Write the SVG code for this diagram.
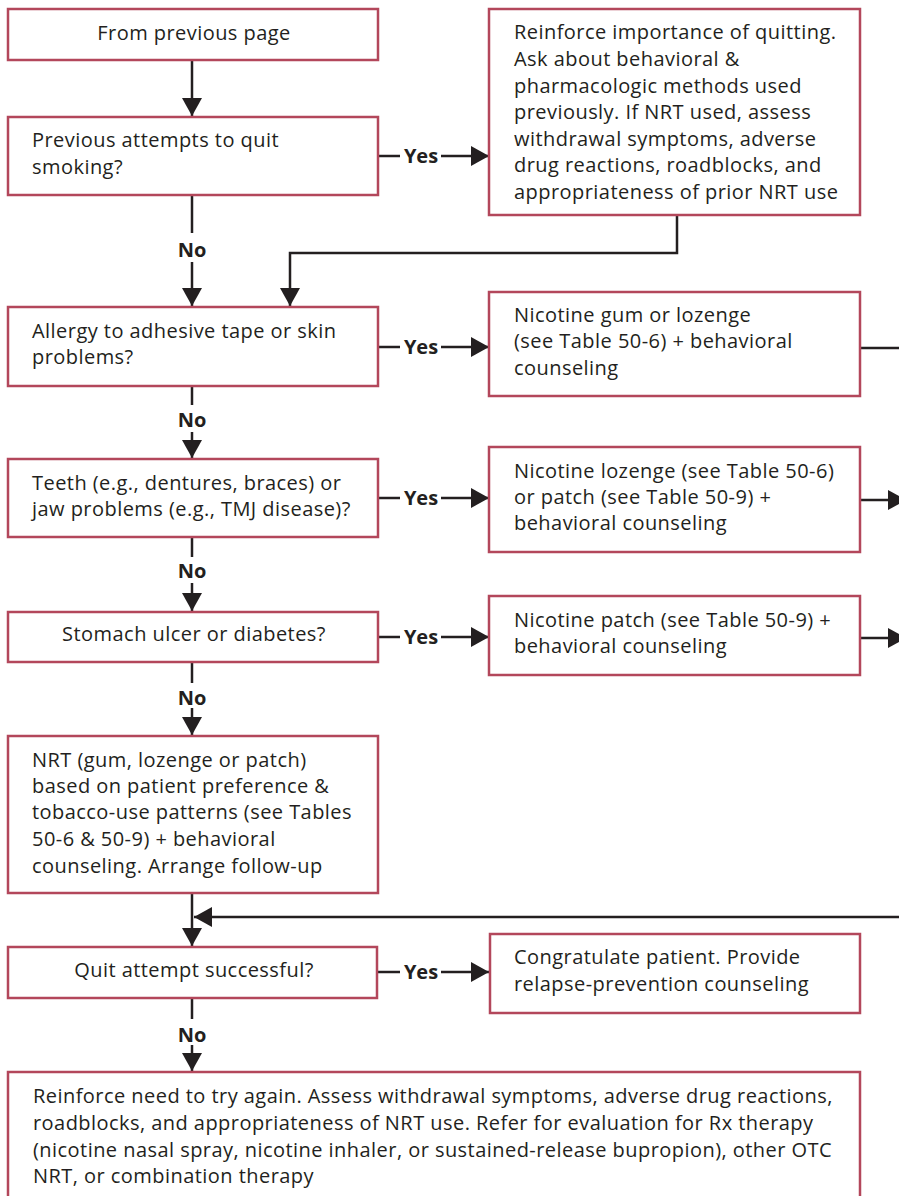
<svg xmlns="http://www.w3.org/2000/svg" width="899" height="1196" viewBox="0 0 899 1196">
<style>
.box{fill:#fff;stroke:#B3475B;stroke-width:2.5}
.t{font-family:"Open Sans","Liberation Sans",sans-serif;font-size:20px;fill:#231F20;letter-spacing:0.45px}
.m{text-anchor:middle}
.lbl{font-family:"Open Sans","Liberation Sans",sans-serif;font-size:20px;font-weight:bold;fill:#231F20;text-anchor:middle}
.c{stroke:#231F20;stroke-width:2.5;fill:none}
</style>
<defs>
<marker id="ah" markerUnits="userSpaceOnUse" markerWidth="18" markerHeight="20" refX="18" refY="10" orient="auto">
<path d="M0,0 L18,10 L0,20 z" fill="#231F20"/>
</marker>
</defs>
<rect width="899" height="1196" fill="#fff"/>

<g id="connectors">
<line class="c" x1="192" y1="60" x2="192" y2="116" marker-end="url(#ah)"/>
<line class="c" x1="378" y1="156" x2="400" y2="156"/>
<line class="c" x1="441" y1="156" x2="489" y2="156" marker-end="url(#ah)"/>
<line class="c" x1="192" y1="195" x2="192" y2="233"/>
<line class="c" x1="192" y1="262" x2="192" y2="306" marker-end="url(#ah)"/>
<path class="c" d="M677,215 V253 H290 V306" marker-end="url(#ah)"/>
<line class="c" x1="378" y1="347" x2="400" y2="347"/>
<line class="c" x1="441" y1="347" x2="489" y2="347" marker-end="url(#ah)"/>
<line class="c" x1="860" y1="348" x2="905" y2="348"/>
<line class="c" x1="192" y1="386" x2="192" y2="405"/>
<line class="c" x1="192" y1="432" x2="192" y2="458" marker-end="url(#ah)"/>
<line class="c" x1="378" y1="498" x2="400" y2="498"/>
<line class="c" x1="441" y1="498" x2="489" y2="498" marker-end="url(#ah)"/>
<line class="c" x1="860" y1="500" x2="906" y2="500" marker-end="url(#ah)"/>
<line class="c" x1="192" y1="537" x2="192" y2="557"/>
<line class="c" x1="192" y1="583" x2="192" y2="611" marker-end="url(#ah)"/>
<line class="c" x1="378" y1="637" x2="400" y2="637"/>
<line class="c" x1="441" y1="637" x2="489" y2="637" marker-end="url(#ah)"/>
<line class="c" x1="860" y1="638" x2="906" y2="638" marker-end="url(#ah)"/>
<line class="c" x1="192" y1="662" x2="192" y2="683"/>
<line class="c" x1="192" y1="708" x2="192" y2="735" marker-end="url(#ah)"/>
<line class="c" x1="192" y1="893" x2="192" y2="946" marker-end="url(#ah)"/>
<line class="c" x1="905" y1="917" x2="194" y2="917" marker-end="url(#ah)"/>
<line class="c" x1="377" y1="972" x2="400" y2="972"/>
<line class="c" x1="441" y1="972" x2="489" y2="972" marker-end="url(#ah)"/>
<line class="c" x1="192" y1="998" x2="192" y2="1019"/>
<line class="c" x1="192" y1="1045" x2="192" y2="1071" marker-end="url(#ah)"/>
<text class="lbl" x="421" y="163">Yes</text>
<text class="lbl" x="192" y="257">No</text>
<text class="lbl" x="421" y="354">Yes</text>
<text class="lbl" x="192" y="427">No</text>
<text class="lbl" x="421" y="505">Yes</text>
<text class="lbl" x="192" y="578">No</text>
<text class="lbl" x="421" y="644">Yes</text>
<text class="lbl" x="192" y="705">No</text>
<text class="lbl" x="421" y="979">Yes</text>
<text class="lbl" x="192" y="1042">No</text>
</g>

<g id="n1">
<rect class="box" x="8" y="9" width="370" height="51"/>
<text class="t m" x="194" y="40">From previous page</text>
</g>
<g id="n2">
<rect class="box" x="8" y="117" width="370" height="78"/>
<text class="t" x="32" y="147">Previous attempts to quit</text>
<text class="t" x="32" y="174">smoking?</text>
</g>
<g id="n3">
<rect class="box" x="489" y="9" width="371" height="206"/>
<text class="t" x="514" y="39">Reinforce importance of quitting.</text>
<text class="t" x="514" y="66">Ask about behavioral &amp;</text>
<text class="t" x="514" y="93">pharmacologic methods used</text>
<text class="t" x="514" y="119">previously. If NRT used, assess</text>
<text class="t" x="514" y="146">withdrawal symptoms, adverse</text>
<text class="t" x="514" y="172">drug reactions, roadblocks, and</text>
<text class="t" x="514" y="199">appropriateness of prior NRT use</text>
</g>
<g id="n4">
<rect class="box" x="8" y="307" width="370" height="79"/>
<text class="t" x="32" y="338">Allergy to adhesive tape or skin</text>
<text class="t" x="32" y="364">problems?</text>
</g>
<g id="n5">
<rect class="box" x="489" y="292" width="371" height="104"/>
<text class="t" x="514" y="322">Nicotine gum or lozenge</text>
<text class="t" x="514" y="348">(see Table 50-6) + behavioral</text>
<text class="t" x="514" y="375">counseling</text>
</g>
<g id="n6">
<rect class="box" x="8" y="459" width="370" height="78"/>
<text class="t" x="32" y="490">Teeth (e.g., dentures, braces) or</text>
<text class="t" x="32" y="516">jaw problems (e.g., TMJ disease)?</text>
</g>
<g id="n7">
<rect class="box" x="489" y="447" width="371" height="105"/>
<text class="t" x="514" y="478">Nicotine lozenge (see Table 50-6)</text>
<text class="t" x="514" y="504">or patch (see Table 50-9) +</text>
<text class="t" x="514" y="530">behavioral counseling</text>
</g>
<g id="n8">
<rect class="box" x="8" y="612" width="370" height="50"/>
<text class="t m" x="194" y="641">Stomach ulcer or diabetes?</text>
</g>
<g id="n9">
<rect class="box" x="489" y="596" width="371" height="79"/>
<text class="t" x="514" y="627">Nicotine patch (see Table 50-9) +</text>
<text class="t" x="514" y="653">behavioral counseling</text>
</g>
<g id="n10">
<rect class="box" x="8" y="736" width="370" height="157"/>
<text class="t" x="32" y="767">NRT (gum, lozenge or patch)</text>
<text class="t" x="32" y="793">based on patient preference &amp;</text>
<text class="t" x="32" y="819">tobacco-use patterns (see Tables</text>
<text class="t" x="32" y="846">50-6 &amp; 50-9) + behavioral</text>
<text class="t" x="32" y="873">counseling. Arrange follow-up</text>
</g>
<g id="n11">
<rect class="box" x="8" y="947" width="369" height="51"/>
<text class="t m" x="194" y="977">Quit attempt successful?</text>
</g>
<g id="n12">
<rect class="box" x="490" y="934" width="370" height="79"/>
<text class="t" x="514" y="964">Congratulate patient. Provide</text>
<text class="t" x="514" y="991">relapse-prevention counseling</text>
</g>
<g id="n13">
<rect class="box" x="8" y="1072" width="852" height="140"/>
<text class="t" x="33" y="1103">Reinforce need to try again. Assess withdrawal symptoms, adverse drug reactions,</text>
<text class="t" x="33" y="1130">roadblocks, and appropriateness of NRT use. Refer for evaluation for Rx therapy</text>
<text class="t" x="33" y="1157">(nicotine nasal spray, nicotine inhaler, or sustained-release bupropion), other OTC</text>
<text class="t" x="33" y="1183">NRT, or combination therapy</text>
</g>
</svg>
